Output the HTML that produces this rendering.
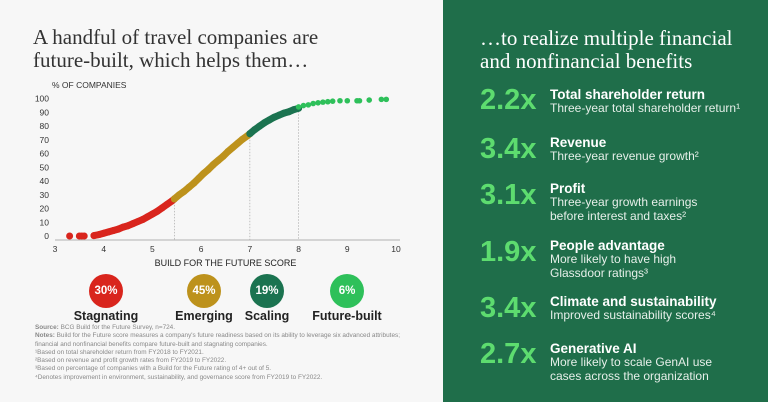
<!DOCTYPE html>
<html><head><meta charset="utf-8">
<style>
body{margin:0;width:768px;height:402px;overflow:hidden;background:#f7f7f7;font-family:"Liberation Sans",sans-serif;position:relative}
.abs{position:absolute}
.serif{font-family:"Liberation Serif",serif}
#right{position:absolute;left:443px;top:0;width:325px;height:402px;background:#1f6e4a}
.num{position:absolute;left:37px;font-weight:bold;font-size:29px;color:#5ddc6f;line-height:28px}
.ttl{position:absolute;left:107px;font-weight:bold;font-size:13.5px;color:#fff;line-height:15px}
.sub{position:absolute;left:107px;font-size:12px;color:#e6efe9;line-height:13.5px}
.badge{position:absolute;width:34px;height:34px;border-radius:50%;color:#fff;font-weight:bold;font-size:11.5px;text-align:center;line-height:34px}
.blab{position:absolute;font-weight:bold;font-size:12.5px;color:#222;text-align:center;width:100px}
.fn{position:absolute;left:35px;font-size:6.4px;color:#888;line-height:8.3px}
</style></head><body>
<div class="abs serif" style="left:33px;top:26px;font-size:21px;line-height:23px;color:#333">A handful of travel companies are<br>future-built, which helps them…</div>

<svg id="chart" class="abs" style="left:0;top:80px" width="440" height="190"></svg>

<div class="badge" style="left:89px;top:274px;background:#d9251d">30%</div>
<div class="badge" style="left:187px;top:274px;background:#bd921c">45%</div>
<div class="badge" style="left:250px;top:274px;background:#1b7350">19%</div>
<div class="badge" style="left:330px;top:274px;background:#2ec05a">6%</div>
<div class="blab" style="left:56px;top:309px">Stagnating</div>
<div class="blab" style="left:154px;top:309px">Emerging</div>
<div class="blab" style="left:217px;top:309px">Scaling</div>
<div class="blab" style="left:297px;top:309px">Future-built</div>

<div class="fn" style="top:324px"><b>Source:</b> BCG Build for the Future Survey, n=724.<br><b>Notes:</b> Build for the Future score measures a company's future readiness based on its ability to leverage six advanced attributes;<br>financial and nonfinancial benefits compare future-built and stagnating companies.<br>¹Based on total shareholder return from FY2018 to FY2021.<br>²Based on revenue and profit growth rates from FY2019 to FY2022.<br>³Based on percentage of companies with a Build for the Future rating of 4+ out of 5.<br>⁴Denotes improvement in environment, sustainability, and governance score from FY2019 to FY2022.</div>

<div id="right">
<div class="abs serif" style="left:37px;top:27px;font-size:21px;line-height:23px;color:#fff">…to realize multiple financial<br>and nonfinancial benefits</div>
<div class="num" style="top:86px">2.2x</div>
<div class="ttl" style="top:87px">Total shareholder return</div>
<div class="sub" style="top:102px">Three-year total shareholder return¹</div>
<div class="num" style="top:135px">3.4x</div>
<div class="ttl" style="top:135px">Revenue</div>
<div class="sub" style="top:150px">Three-year revenue growth²</div>
<div class="num" style="top:181px">3.1x</div>
<div class="ttl" style="top:181px">Profit</div>
<div class="sub" style="top:196px">Three-year growth earnings<br>before interest and taxes²</div>
<div class="num" style="top:238px">1.9x</div>
<div class="ttl" style="top:238px">People advantage</div>
<div class="sub" style="top:253px">More likely to have high<br>Glassdoor ratings³</div>
<div class="num" style="top:294px">3.4x</div>
<div class="ttl" style="top:294px">Climate and sustainability</div>
<div class="sub" style="top:309px">Improved sustainability scores⁴</div>
<div class="num" style="top:340px">2.7x</div>
<div class="ttl" style="top:341px">Generative AI</div>
<div class="sub" style="top:356px">More likely to scale GenAI use<br>cases across the organization</div>
</div>

<script>
const xTicks=[3,4,5,6,7,8,9,10];
const yTicks=[0,10,20,30,40,50,60,70,80,90,100];
const cutoffs=[5.45,7.0,8.0];
const stagScores=[3.3,3.5,3.55,3.6,3.8,3.9,4.0,4.1,4.2,4.3,4.4,4.5,4.6,4.7,4.8,4.9,5.0,5.1,5.2,5.3,5.4,5.45];
const stagPct=[0,0,0,0,0.3,1,2,3,4,5,6.5,7.5,9,10.5,12,14,16,18,20.5,23,25.5,27];
const emergScores=[5.45,5.55,5.65,5.75,5.85,5.95,6.05,6.15,6.25,6.35,6.45,6.55,6.65,6.75,6.85,6.95,7.0];
const emergPct=[27,30,32.5,35.5,38.5,42,45.5,48.5,52,55,58,61.5,64.5,67.5,70.5,73,74.5];
const scaleScores=[7.0,7.1,7.2,7.3,7.4,7.5,7.6,7.7,7.8,7.9,8.0];
const scalePct=[74.5,77.5,80,82.5,84.5,86.5,88,89.5,90.5,92,93];
const futScores=[8.0,8.1,8.2,8.3,8.4,8.5,8.6,8.7,8.85,9.0,9.2,9.25,9.45,9.7,9.8];
const futPct=[94,95,95.5,96.5,97,97.5,97.8,98.2,98.5,98.5,98.5,98.5,99,99.5,99.5];
const series=[[stagScores,stagPct,'#d9251d'],[emergScores,emergPct,'#bd921c'],[scaleScores,scalePct,'#1b7350'],[futScores,futPct,'#2ec05a']];
const NS='http://www.w3.org/2000/svg';
const svg=document.getElementById('chart');
const X=v=>55+(v-3)*(396-55)/7;
const Y=v=>156-v*(156-18.7)/100;
function mk(t,a){const e=document.createElementNS(NS,t);for(const k in a)e.setAttribute(k,a[k]);svg.appendChild(e);return e;}
const yl=mk('text',{x:52,y:8,'font-size':8.5,fill:'#333','font-family':'Liberation Sans, sans-serif'});yl.textContent='% OF COMPANIES';


yTicks.forEach(t=>{const e=mk('text',{x:49,y:Y(t)+3,'font-size':8.5,fill:'#333','text-anchor':'end','font-family':'Liberation Sans, sans-serif'});e.textContent=t;

});
xTicks.forEach(t=>{const e=mk('text',{x:X(t),y:172,'font-size':8.5,fill:'#333','text-anchor':'middle','font-family':'Liberation Sans, sans-serif'});e.textContent=t;

});
const ax=mk('line',{x1:X(3),x2:X(10)+4,y1:Y(0)+4,y2:Y(0)+4,stroke:'#999','stroke-width':0.8});


const xt=mk('text',{x:X(6.5),y:186,'font-size':9,fill:'#222','text-anchor':'middle','font-family':'Liberation Sans, sans-serif'});xt.textContent='BUILD FOR THE FUTURE SCORE';


const cutPct=[27,74.5,93];
cutoffs.forEach((c,i)=>{const l=mk('line',{x1:X(c),x2:X(c),y1:Y(cutPct[i]),y2:Y(0)+4,stroke:'#aaa','stroke-width':0.7,'stroke-dasharray':'1.5,1.5'});

});
series.forEach(([xs,ys,col])=>{
  const dense=col!=='#2ec05a';
  if(dense){const pl=mk('polyline',{points:xs.map((x,i)=>X(x)+','+Y(ys[i])).filter((p,i)=>xs[i]>=3.8).join(' '),fill:'none',stroke:col,'stroke-width':7,'stroke-linecap':'round','stroke-linejoin':'round'});
  
  }
  xs.forEach((x,i)=>{const c=mk('circle',{cx:X(x),cy:Y(ys[i]),r:dense?3.5:2.8,fill:col});
  
  });
});
</script>
</body></html>
